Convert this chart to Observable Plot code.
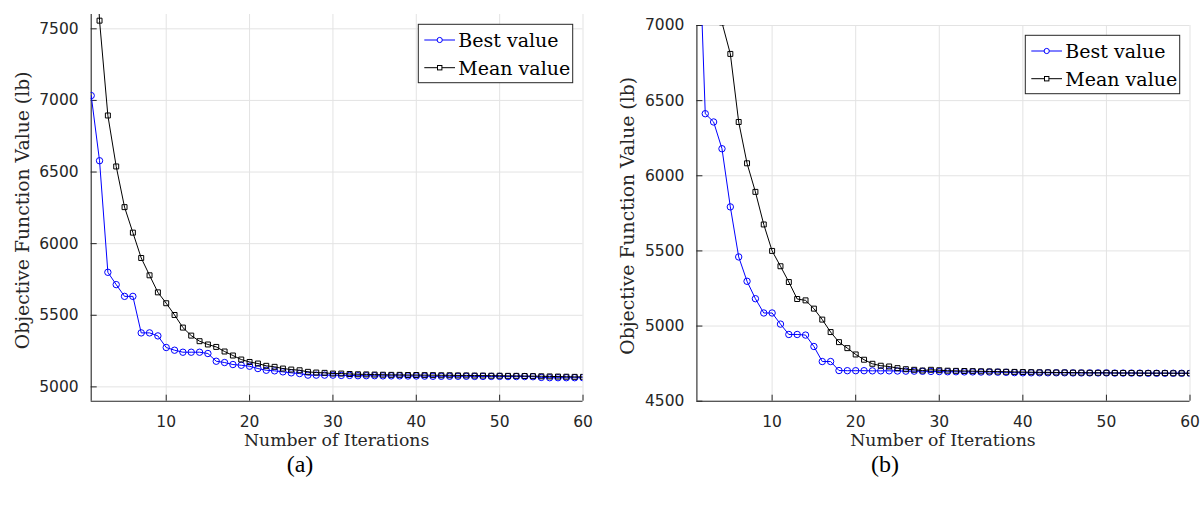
<!DOCTYPE html>
<html><head><meta charset="utf-8">
<script src="https://cdn.jsdelivr.net/npm/d3@7"></script>
<script src="https://cdn.jsdelivr.net/npm/@observablehq/plot@0.6"></script>
<style>
body{margin:0;background:#fff;}
#wrap{position:relative;width:1204px;height:508px;overflow:hidden;background:#fff;}
.panel{position:absolute;top:0;}
.cap{position:absolute;top:451px;font-family:"Liberation Serif",serif;font-size:24px;color:#000;transform:translateX(-50%);white-space:nowrap;}
</style></head><body>
<div id="wrap">
<div class="panel" id="pa" style="left:0"></div>
<div class="panel" id="pb" style="left:600px"></div>
<div class="cap" style="left:300px">(a)</div>
<div class="cap" style="left:885px">(b)</div>
</div>
<script>
// ---- data ----
const iterations = d3.range(1, 61);
const seriesNames = ["Best value", "Mean value"];
const xLabel = "Number of Iterations";
const yLabel = "Objective Function Value (lb)";
const xTicks = [10, 20, 30, 40, 50, 60];
const yTicksA = [5000, 5500, 6000, 6500, 7000, 7500];
const yTicksB = [4500, 5000, 5500, 6000, 6500, 7000];
const yDomainA = [4900, 7600];
const yDomainB = [4500, 7000];

const bestA = [7034, 6579, 5800, 5714, 5632, 5632, 5377, 5377, 5356, 5275,
  5256, 5242, 5242, 5242, 5233, 5179, 5170, 5156, 5151, 5144,
  5128, 5116, 5112, 5105, 5098, 5093, 5082, 5082, 5082, 5082,
  5080, 5080, 5078, 5078, 5078, 5077, 5077, 5077, 5076, 5076,
  5075, 5074, 5074, 5074, 5074, 5074, 5073, 5073, 5073, 5073,
  5072, 5072, 5072, 5071, 5066, 5064, 5064, 5064, 5064, 5064];
const meanA = [8700, 7557, 6895, 6539, 6255, 6077, 5900, 5779, 5660, 5584,
  5502, 5414, 5358, 5319, 5296, 5279, 5247, 5219, 5191, 5174,
  5163, 5147, 5140, 5128, 5121, 5116, 5105, 5100, 5098, 5093,
  5093, 5090, 5088, 5087, 5086, 5085, 5084, 5084, 5083, 5083,
  5082, 5082, 5081, 5081, 5080, 5080, 5079, 5079, 5078, 5078,
  5077, 5077, 5076, 5075, 5074, 5073, 5072, 5071, 5070, 5070];
const bestB = [8000, 6413, 6358, 6180, 5793, 5460, 5298, 5182, 5087, 5087,
  5013, 4944, 4944, 4940, 4864, 4764, 4764, 4704, 4703, 4703,
  4703, 4702, 4702, 4702, 4701, 4700, 4700, 4699, 4698, 4697,
  4696, 4696, 4695, 4695, 4694, 4694, 4693, 4692, 4690, 4689,
  4689, 4689, 4689, 4689, 4689, 4688, 4688, 4688, 4688, 4688,
  4687, 4687, 4687, 4687, 4686, 4686, 4686, 4686, 4686, 4686];
const meanB = [8600, 7900, 7400, 7020, 6811, 6358, 6083, 5893, 5676, 5500,
  5398, 5293, 5180, 5171, 5116, 5043, 4960, 4893, 4853, 4811,
  4776, 4749, 4736, 4731, 4720, 4713, 4709, 4704, 4709, 4706,
  4703, 4702, 4701, 4700, 4699, 4698, 4697, 4696, 4695, 4694,
  4693, 4692, 4692, 4691, 4691, 4690, 4690, 4689, 4689, 4689,
  4688, 4688, 4688, 4687, 4687, 4687, 4687, 4686, 4686, 4686];

// ---- drawing ----
const AX = "#262626";
const GRID = "#e3e3e3";
const SERIF = "DejaVu Serif";
const SANS = "DejaVu Sans";

function panel(el, cfg) {
  const {width, ml, mr, mt, best, mean, yDomain, yTicks} = cfg;
  const height = 470, mb = 69.3;
  const plotW = width - ml - mr, plotH = height - mt - mb;
  const rows = iterations.map((it, i) => ({it, best: best[i], mean: mean[i]}));
  const plot = Plot.plot({
    width, height,
    marginLeft: ml, marginRight: mr, marginTop: mt, marginBottom: mb,
    style: {background: "transparent", overflow: "visible", color: AX},
    x: {domain: [1, 60], axis: null},
    y: {domain: yDomain, axis: null},
    marks: [
      Plot.ruleX(xTicks, {stroke: GRID, strokeWidth: 1}),
      Plot.ruleY(yTicks, {stroke: GRID, strokeWidth: 1}),
      Plot.tickX(xTicks, {insetTop: plotH - 6, stroke: AX}),
      Plot.tickY(yTicks, {insetRight: plotW - 6, stroke: AX}),
      Plot.ruleX([1], {stroke: AX, strokeWidth: 1.1}),
      Plot.ruleY([yDomain[0]], {stroke: AX, strokeWidth: 1.1}),
      Plot.axisX({ticks: xTicks, tickSize: 0, tickPadding: 15, label: null,
        tickFormat: d => String(d), fontSize: 15.5, fontFamily: SANS}),
      Plot.axisY({ticks: yTicks, tickSize: 0, tickPadding: 12.5, label: null,
        tickFormat: d => String(d), fontSize: 15.5, fontFamily: SANS}),
      Plot.line(rows, {x: "it", y: "best", stroke: "#0000ff", strokeWidth: 1, clip: true}),
      Plot.dot(rows, {x: "it", y: "best", symbol: "circle", r: 3.2, stroke: "#0000ff", fill: "none", strokeWidth: 1, clip: true}),
      Plot.line(rows, {x: "it", y: "mean", stroke: "#000", strokeWidth: 1, clip: true}),
      Plot.dot(rows, {x: "it", y: "mean", symbol: "square", r: 2.8, stroke: "#000", fill: "none", strokeWidth: 1, clip: true})
    ]
  });
  const xr = plot.scale("x").range, yr = plot.scale("y").range;
  const L = xr[0], R = xr[1], B = yr[0], T = yr[1];
  const svg = d3.select(plot);
  // axis titles
  svg.append("text").text(yLabel)
    .attr("transform", `translate(${L - 68.5},${(T + B) / 2 + 3}) rotate(-90)`)
    .attr("text-anchor", "middle").attr("dominant-baseline", "central")
    .attr("font-family", SERIF).attr("font-size", 18.8).attr("fill", AX);
  svg.append("text").text(xLabel)
    .attr("x", (L + R) / 2).attr("y", B + 39.5)
    .attr("text-anchor", "middle").attr("dominant-baseline", "central")
    .attr("font-family", SERIF).attr("font-size", 17.3).attr("fill", AX);
  // legend (inside plot, top-right)
  const g = svg.append("g");
  g.append("rect").attr("x", R - 164.2).attr("y", T + 10.3).attr("width", 154.4).attr("height", 58.4)
    .attr("fill", "#fff").attr("stroke", AX).attr("stroke-width", 1);
  const colors = ["#0000ff", "#000"];
  seriesNames.forEach((name, i) => {
    const yy = T + 26 + i * 27.7;
    g.append("line").attr("x1", R - 158.2).attr("x2", R - 127.5).attr("y1", yy).attr("y2", yy)
      .attr("stroke", colors[i]).attr("stroke-width", 1);
    const cx = R - 142.8;
    if (i === 0) {
      g.append("circle").attr("cx", cx).attr("cy", yy).attr("r", 2.6).attr("fill", "#fff").attr("stroke", colors[i]);
    } else {
      g.append("rect").attr("x", cx - 2.2).attr("y", yy - 2.2).attr("width", 4.4).attr("height", 4.4)
        .attr("fill", "#fff").attr("stroke", colors[i]);
    }
    g.append("text").attr("x", R - 124.2).attr("y", yy + 6.8).text(name)
      .attr("text-anchor", "start")
      .attr("font-family", SERIF).attr("font-size", 19).attr("fill", "#000");
  });
  document.getElementById(el).appendChild(plot);
}

panel("pa", {width: 600, ml: 90.7, mr: 17.5, mt: 14, best: bestA, mean: meanA, yDomain: yDomainA, yTicks: yTicksA});
panel("pb", {width: 604, ml: 96.4, mr: 14.5, mt: 25, best: bestB, mean: meanB, yDomain: yDomainB, yTicks: yTicksB});
</script>
</body></html>
